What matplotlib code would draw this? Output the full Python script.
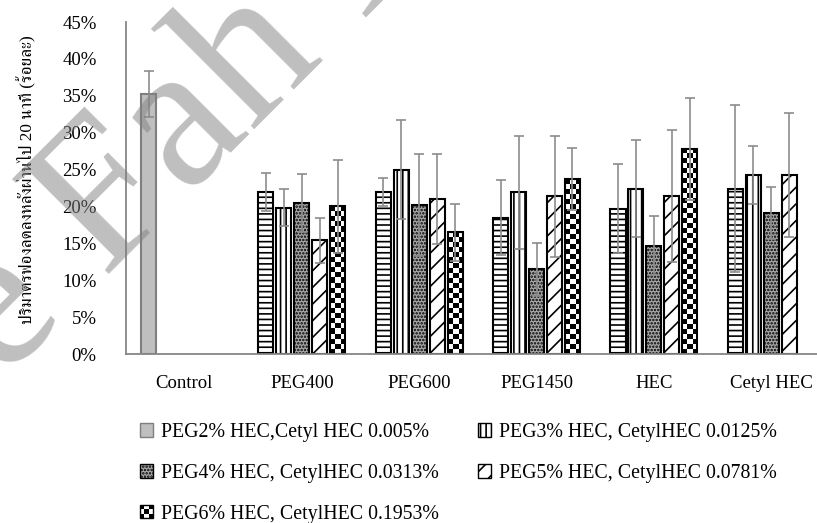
import numpy as np
import matplotlib
matplotlib.use("Agg")
import matplotlib.pyplot as plt
import matplotlib.ticker as ticker
from matplotlib import font_manager, ft2font
from matplotlib.patches import Patch, Rectangle
from matplotlib.legend_handler import HandlerBase

categories = ["Control", "PEG400", "PEG600", "PEG1450", "HEC", "Cetyl HEC"]
series_labels = ["PEG2% HEC,Cetyl HEC 0.005%", "PEG3% HEC, CetylHEC 0.0125%",
                 "PEG4% HEC, CetylHEC 0.0313%", "PEG5% HEC, CetylHEC 0.0781%",
                 "PEG6% HEC, CetylHEC 0.1953%"]

# foam volume reduction (%) and error, NaN = no bar
peg2 = [35.2, 22.0, 21.9, 18.5, 19.7, 22.4]
peg2_err = [3.1, 2.6, 1.9, 5.1, 6.0, 11.3]
peg3 = [np.nan, 19.8, 25.0, 21.9, 22.4, 24.3]
peg3_err = [np.nan, 2.5, 6.7, 7.6, 6.6, 3.9]
peg4 = [np.nan, 20.5, 20.2, 11.5, 14.7, 19.1]
peg4_err = [np.nan, 3.9, 6.9, 3.6, 4.0, 3.5]
peg5 = [np.nan, 15.4, 21.0, 21.4, 21.4, 24.3]
peg5_err = [np.nan, 3.1, 6.1, 8.2, 8.9, 8.4]
peg6 = [np.nan, 20.0, 16.5, 23.7, 27.8, np.nan]
peg6_err = [np.nan, 6.3, 3.9, 4.2, 6.9, np.nan]

y_label = "ปริมาตรฟองลดลงหลังผ่านไป 20 นาที (ร้อยละ)"

plt.rcParams['font.family'] = ['Liberation Serif', 'DejaVu Sans']
plt.rcParams['hatch.linewidth'] = 1.2


def thai_families():
    # look through the installed fonts for ones that carry Thai letters
    found = []
    for f in font_manager.fontManager.ttflist:
        try:
            if 0x0E1B in ft2font.FT2Font(f.fname).get_charmap():
                found.append(f.name)
        except Exception:
            pass
    found = sorted(set(found), key=lambda n: (("Serif" not in n and "Norasi" not in n), n))
    return found


class CheckerKey:
    pass


class CheckerHandler(HandlerBase):
    def create_artists(self, legend, orig_handle, xdescent, ydescent, width, height, fontsize, trans):
        x0, y0 = -xdescent, -ydescent
        artists = [Rectangle((x0, y0), width, height, facecolor="white", lw=0, transform=trans)]
        n = 3
        cw, ch = width / n, height / n
        for i in range(n):
            for j in range(n):
                if (i + j) % 2 == 0:
                    artists.append(Rectangle((x0 + i * cw, y0 + j * ch), cw, ch, facecolor="black", lw=0, transform=trans))
        artists.append(Rectangle((x0, y0), width, height, facecolor="none", edgecolor="black", lw=1, transform=trans))
        return artists


def add_checker(ax, bar, cell_h):
    h = bar.get_height()
    if not np.isfinite(h) or h <= 0:
        return
    x0, w = bar.get_x(), bar.get_width()
    n_rows = max(1, int(round(h / cell_h)))
    grid = np.add.outer(np.arange(n_rows), np.arange(3)) % 2
    im = ax.imshow(grid, cmap="gray", extent=(x0, x0 + w, 0, h), origin="lower",
                   interpolation="nearest", aspect="auto", zorder=1.9)
    im.set_clip_path(bar)


fig = plt.figure(figsize=(8.17, 5.23), dpi=100)
ax = fig.add_axes([0.1539, 0.3231, 0.862, 0.6348])

x = np.arange(len(categories))
step = 0.153
width = 0.128
values = [peg2, peg3, peg4, peg5, peg6]
errors = [peg2_err, peg3_err, peg4_err, peg5_err, peg6_err]
styles = [dict(facecolor="white", hatch="---"),
          dict(facecolor="white", hatch="|||"),
          dict(facecolor="#a8a8a8", hatch="....."),
          dict(facecolor="white", hatch="//"),
          dict(facecolor="none")]

for i, (vals, errs, st) in enumerate(zip(values, errors, styles)):
    pos = x + (i - 2) * step
    bars = ax.bar(pos, vals, width, edgecolor="black", linewidth=1.5, zorder=2, **st)
    if i == 0:
        bars.patches[0].set_hatch(None)
        bars.patches[0].set_facecolor("#bfbfbf")
        bars.patches[0].set_edgecolor("#7f7f7f")
    if i == 4:
        for b in bars.patches:
            add_checker(ax, b, 0.68)
    ax.errorbar(pos, vals, yerr=errs, fmt="none", ecolor="#8c8c8c", elinewidth=1.2,
                capsize=3.5, capthick=1.2, zorder=3)

ax.set_xlim(-0.5, 5.5)
ax.set_ylim(0, 45)
ax.yaxis.set_major_locator(ticker.MultipleLocator(5))
ax.yaxis.set_major_formatter(ticker.FormatStrFormatter("%d%%"))
ax.set_xticks(x)
ax.set_xticklabels(categories)
ax.tick_params(axis="both", length=0, labelsize=13.5)
ax.tick_params(axis="y", pad=21)
ax.tick_params(axis="x", pad=15)
for s in ["top", "right"]:
    ax.spines[s].set_visible(False)
for s in ["left", "bottom"]:
    ax.spines[s].set_color("#868686")
    ax.spines[s].set_linewidth(1.3)

fig.text(0.033, 1 - 180 / 523, y_label, rotation=90, ha="center", va="center", fontsize=12.4,
         family=['Liberation Serif'] + thai_families() + ['DejaVu Sans'])

# legend, ordered so that the rows read like the reference
legend_handles = [Patch(facecolor="#bfbfbf", edgecolor="#7f7f7f"),
                  Patch(facecolor="white", edgecolor="black", hatch="|||"),
                  Patch(facecolor="#a8a8a8", edgecolor="black", hatch="....."),
                  Patch(facecolor="white", edgecolor="black", hatch="//"),
                  CheckerKey()]
order = [0, 2, 4, 1, 3]
fig.legend([legend_handles[k] for k in order], [series_labels[k] for k in order],
           handler_map={CheckerKey: CheckerHandler()},
           loc="upper left", bbox_to_anchor=(140 / 817, 1 - 423 / 523), ncol=2,
           frameon=False, borderpad=0, borderaxespad=0, handlelength=0.66, handleheight=0.66,
           handletextpad=0.4, labelspacing=1.1, columnspacing=1.95, fontsize=14.3)

# watermark
fig.text(272 / 817, 1 - 111 / 523, "Mae Fah Luang", rotation=45, rotation_mode="anchor",
         ha="center", va="baseline", fontsize=150, color="#808080", alpha=0.5, zorder=10)

fig.savefig("out.png", dpi=100)
